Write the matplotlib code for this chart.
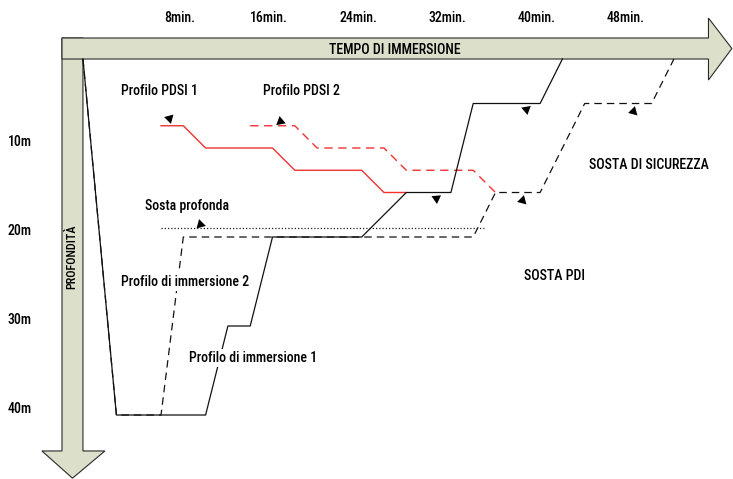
import matplotlib.pyplot as plt
from matplotlib.patches import Polygon

plt.rcParams.update({
    "font.family": ["Roboto Condensed", "DejaVu Sans"],
    "font.size": 10,
    "font.weight": 500,
})

# dive profiles: time (min) / depth (m)
prof1_t = [0, 3, 11, 13, 15, 17, 25, 29, 33, 35, 41, 43]
prof1_d = [0, 40, 40, 30, 30, 20, 20, 15, 15, 5, 5, 0]

prof2_t = [0, 3, 7, 9, 35, 37, 41, 45, 51, 53]
prof2_d = [0, 40, 40, 20, 20, 15, 15, 5, 5, 0]

pdsi1_t = [7, 9, 11, 17, 19, 25, 27, 29]
pdsi1_d = [7.5, 7.5, 10, 10, 12.5, 12.5, 15, 15]

pdsi2_t = [15, 19, 21, 27, 29, 35, 37]
pdsi2_d = [7.5, 7.5, 10, 10, 12.5, 12.5, 15]

deep_stop_t = [7, 36]
deep_stop_d = [19, 19]

time_ticks = [8, 16, 24, 32, 40, 48]
time_labels = ["8min.", "16min.", "24min.", "32min.", "40min.", "48min."]
depth_ticks = [10, 20, 30, 40]
depth_labels = ["10m", "20m", "30m", "40m"]

# little arrowheads (time, depth, rotation)
heads_t = [7.7, 17.7, 31.7, 39.7, 49.3, 39.4, 10.5]
heads_d = [6.6, 7.0, 15.6, 5.6, 5.8, 15.8, 18.5]
heads_rot = [195, 130, 185, 190, 225, 225, 15]

RED = "#f03232"
ARROW_FILL = "#dcdfc9"
ARROW_EDGE = "#2a2a2a"

fig = plt.figure(figsize=(7.33, 4.79), dpi=100)
ax = fig.add_axes([0, 0, 1, 1])
ax.set_xlim(-7.44, 58.3)
ax.set_ylim(47.19, -6.63)
ax.axis("off")

# big axis arrows
v_arrow = Polygon([(-1.88, -2.36), (0, -2.36), (0, 44.04), (1.97, 44.04),
                   (-0.94, 47.1), (-3.68, 44.04), (-1.88, 44.04)],
                  closed=True, fc=ARROW_FILL, ec=ARROW_EDGE, lw=0.8, zorder=1)
h_arrow = Polygon([(-1.88, -2.36), (56.1, -2.36), (56.1, -4.6), (58.2, -1.18),
                   (56.1, 2.36), (56.1, 0), (-1.88, 0)],
                  closed=True, fc=ARROW_FILL, ec=ARROW_EDGE, lw=0.8, zorder=2)
ax.add_patch(v_arrow)
ax.add_patch(h_arrow)

ax.text(28.0, -1.05, "TEMPO DI IMMERSIONE", ha="center", va="center", zorder=5)
ax.text(-0.97, 22.2, "PROFONDITÀ", ha="center", va="center", rotation=90,
        fontsize=8.7, zorder=5)

for t, lab in zip(time_ticks, time_labels):
    ax.text(t + 0.7, -4.6, lab, ha="center", va="center")
for d, lab in zip(depth_ticks, depth_labels):
    ax.text(-5.65, d - 0.7, lab, ha="center", va="center")

# profiles
ax.plot(pdsi1_t, pdsi1_d, color=RED, lw=1.0, zorder=3)
ax.plot(pdsi2_t, pdsi2_d, color=RED, lw=1.0, dashes=(6, 4), zorder=3)
ax.plot(deep_stop_t, deep_stop_d, color="#222222", lw=0.9, dashes=(1, 1.6), zorder=3)
ax.plot(prof2_t, prof2_d, color="#111111", lw=0.9, dashes=(6, 4), zorder=3)
ax.plot(prof1_t, prof1_d, color="#111111", lw=0.9, zorder=4)

for t, d, r in zip(heads_t, heads_d, heads_rot):
    ax.plot(t, d, marker=(3, 0, r), ms=8, color="black", mew=0, zorder=5)

# annotations
white = dict(fc="white", ec="none", pad=1.5)
ax.text(6.9, 3.6, "Profilo PDSI 1", ha="center", va="center")
ax.text(19.55, 3.6, "Profilo PDSI 2", ha="center", va="center")
ax.text(9.33, 16.5, "Sosta profonda", ha="center", va="center")
ax.text(9.15, 25.05, "Profilo di immersione 2", ha="center", va="center",
        bbox=white, zorder=6)
ax.text(15.25, 33.6, "Profilo di immersione 1", ha="center", va="center",
        bbox=white, zorder=6)
ax.text(50.76, 11.9, "SOSTA DI SICUREZZA", ha="center", va="center")
ax.text(42.3, 24.4, "SOSTA PDI", ha="center", va="center")

fig.savefig("out.png", dpi=100)
